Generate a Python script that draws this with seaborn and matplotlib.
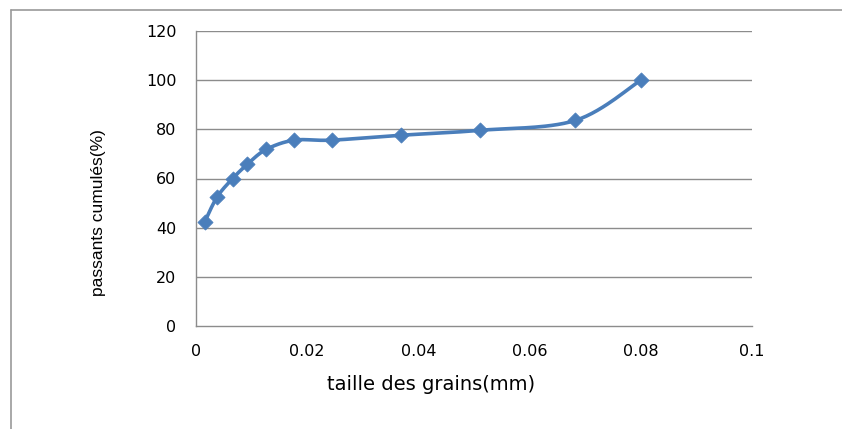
import numpy as np
import pandas as pd
import matplotlib
matplotlib.use("Agg")
import matplotlib.pyplot as plt
import seaborn as sns
from matplotlib.lines import Line2D

# Data
grain_size_mm = [0.0016, 0.0038, 0.0066, 0.0092, 0.0126, 0.0177, 0.0244, 0.0369, 0.0511, 0.0682, 0.0800]
passing_pct = [42.5, 52.5, 60.0, 65.7, 71.8, 75.6, 75.6, 77.6, 79.6, 83.6, 100.0]
x_ticks = [0, 0.02, 0.04, 0.06, 0.08, 0.1]
x_tick_labels = ["0", "0.02", "0.04", "0.06", "0.08", "0.1"]
y_ticks = [0, 20, 40, 60, 80, 100, 120]
x_label = "taille des grains(mm)"
y_label = "passants cumulés(%)"

df = pd.DataFrame({"x": grain_size_mm, "y": passing_pct})

sns.set_theme(style="white")
plt.rcParams["font.family"] = ["DejaVu Sans"]

LINE = "#4A7EBB"
GRID = "#8C8C8C"

fig = plt.figure(figsize=(8.42, 4.29), dpi=100)
ax = fig.add_axes([196 / 842, 1 - 326 / 429, (752 - 196) / 842, (326 - 31) / 429])


def excel_smooth(xs, ys, n=30):
    """Catmull-Rom style Bezier smoothing similar to Excel's smoothed line."""
    xs = np.asarray(xs, float)
    ys = np.asarray(ys, float)
    px, py = [], []
    m = len(xs)
    for i in range(m - 1):
        x0, y0 = (xs[i - 1], ys[i - 1]) if i > 0 else (xs[i], ys[i])
        x1, y1 = xs[i], ys[i]
        x2, y2 = xs[i + 1], ys[i + 1]
        x3, y3 = (xs[i + 2], ys[i + 2]) if i + 2 < m else (xs[i + 1], ys[i + 1])
        c1x, c1y = x1 + (x2 - x0) / 6, y1 + (y2 - y0) / 6
        c2x, c2y = x2 - (x3 - x1) / 6, y2 - (y3 - y1) / 6
        t = np.linspace(0, 1, n, endpoint=(i == m - 2))
        b0 = (1 - t) ** 3
        b1 = 3 * (1 - t) ** 2 * t
        b2 = 3 * (1 - t) * t ** 2
        b3 = t ** 3
        px.extend(b0 * x1 + b1 * c1x + b2 * c2x + b3 * x2)
        py.extend(b0 * y1 + b1 * c1y + b2 * c2y + b3 * y2)
    return np.array(px), np.array(py)


sx, sy = excel_smooth(df["x"], df["y"])
smooth_df = pd.DataFrame({"x": sx, "y": sy})
sns.lineplot(data=smooth_df, x="x", y="y", ax=ax, color=LINE, linewidth=2.6,
             sort=False, estimator=None, zorder=3)
sns.scatterplot(data=df, x="x", y="y", ax=ax, marker="D", s=60, color=LINE,
                edgecolor=LINE, linewidth=0.5, zorder=4)

ax.set_xlim(0, 0.1)
ax.set_ylim(0, 120)
ax.set_xticks(x_ticks)
ax.set_xticklabels(x_tick_labels)
ax.set_yticks(y_ticks)
ax.set_xlabel("")
ax.set_ylabel("")

ax.grid(False)
for yv in y_ticks[1:]:
    ax.axhline(yv, color=GRID, linewidth=1.0, zorder=1)

for side in ["top", "right"]:
    ax.spines[side].set_visible(False)
for side in ["left", "bottom"]:
    ax.spines[side].set_color(GRID)
    ax.spines[side].set_linewidth(1.0)

ax.tick_params(axis="both", which="major", direction="out", length=5, width=1,
               color=GRID, labelsize=11.5, labelcolor="black")
ax.tick_params(axis="x", pad=8)
ax.tick_params(axis="y", pad=9)

fig.text(431 / 842, 1 - 384 / 429, x_label, ha="center", va="center",
         fontsize=14, color="black")
fig.text(99 / 842, 1 - 213 / 429, y_label, ha="center", va="center",
         rotation=90, fontsize=12.5, color="black",
         family=["Liberation Sans", "DejaVu Sans"])

# outer chart border (top and left visible)
fig.add_artist(Line2D([11 / 842, 11 / 842], [0, 1 - 10 / 429], transform=fig.transFigure,
                      color="#9A9A9A", linewidth=1.2))
fig.add_artist(Line2D([11 / 842, 1], [1 - 10 / 429, 1 - 10 / 429], transform=fig.transFigure,
                      color="#9A9A9A", linewidth=1.2))

fig.savefig("out.png", dpi=100)
